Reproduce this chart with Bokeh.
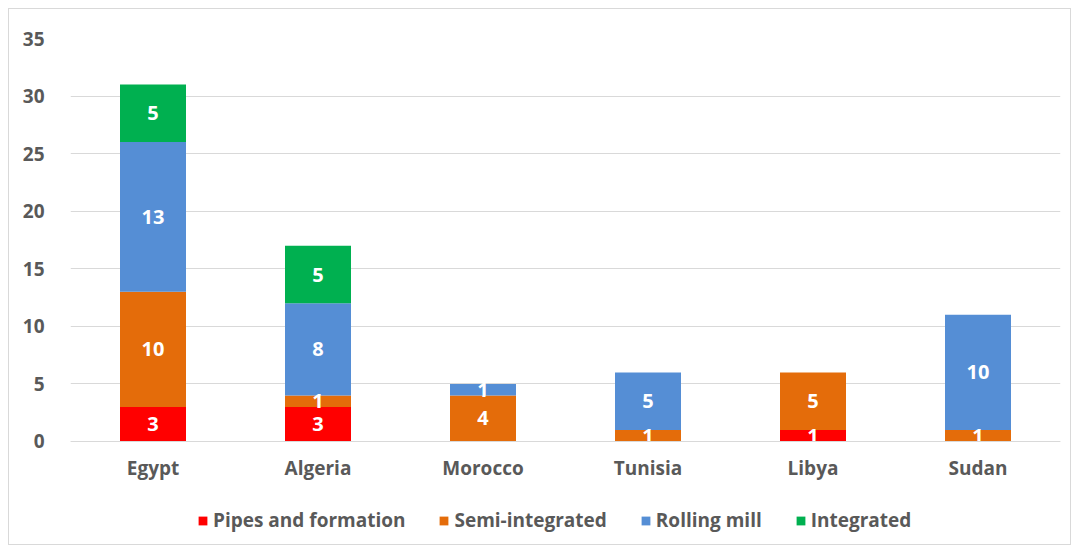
from bokeh.plotting import figure
from bokeh.models import (ColumnDataSource, FactorRange, Range1d, Legend, LegendItem,
                          FixedTicker)
from bokeh.core.properties import value
from bokeh.embed import file_html
from bokeh.resources import INLINE

countries = ["Egypt", "Algeria", "Morocco", "Tunisia", "Libya", "Sudan"]
series_names = ["Pipes and formation", "Semi-integrated", "Rolling mill", "Integrated"]
pipes = [3, 3, 0, 0, 1, 0]
semi = [10, 1, 4, 1, 5, 1]
rolling = [13, 8, 1, 5, 0, 10]
integrated = [5, 5, 0, 0, 0, 0]
y_ticks = [0, 5, 10, 15, 20, 25, 30, 35]
colors = ["#FF0000", "#E46C0A", "#558ED5", "#00B050"]

FONT = "Open Sans"
TXT = "#595959"

keys = ["pipes", "semi", "rolling", "integrated"]
src = ColumnDataSource(dict(country=countries, pipes=pipes, semi=semi,
                            rolling=rolling, integrated=integrated))

p = figure(frame_width=990, frame_height=506, x_range=FactorRange(*countries, range_padding=0),
           y_range=Range1d(-8.95, 35), output_backend="svg", toolbar_location=None,
           min_border_left=61, min_border_right=10, min_border_top=29,
           min_border_bottom=0)
p.styles = {"border": "1px solid #d9d9d9", "margin-left": "8px", "margin-top": "8px"}
p.outline_line_color = None

renderers = p.vbar_stack(keys, x="country", width=0.4, source=src,
                         fill_color=colors, line_color=None)

# segment labels
lx, ly, lt = [], [], []
series = [pipes, semi, rolling, integrated]
for i, c in enumerate(countries):
    base = 0
    for s in series:
        v = s[i]
        if v:
            lx.append(c)
            ly.append(base + v / 2)
            lt.append(str(v))
        base += v
p.text(x=lx, y=ly, text=lt, text_color="white", text_font=value(FONT),
       text_font_style="bold", text_font_size="20px", text_align="center",
       text_baseline="middle")

# axes
p.yaxis.ticker = FixedTicker(ticks=y_ticks)
p.yaxis.axis_line_color = None
p.yaxis.major_tick_line_color = None
p.yaxis.minor_tick_line_color = None
p.yaxis.major_label_standoff = 20
p.yaxis.major_label_text_font = FONT
p.yaxis.major_label_text_font_style = "bold"
p.yaxis.major_label_text_font_size = "19px"
p.yaxis.major_label_text_color = TXT

p.xaxis.fixed_location = 0
p.xaxis.axis_line_color = "#d9d9d9"
p.xaxis.major_tick_line_color = None
p.xaxis.minor_tick_line_color = None
p.xaxis.major_label_standoff = 8
p.xaxis.major_label_text_font = FONT
p.xaxis.major_label_text_font_style = "bold"
p.xaxis.major_label_text_font_size = "19px"
p.xaxis.major_label_text_color = TXT

p.xgrid.grid_line_color = None
p.ygrid.grid_line_color = "#d9d9d9"
p.ygrid.grid_line_width = 1

legend = Legend(items=[LegendItem(label=n, renderers=[r]) for n, r in zip(series_names, renderers)],
                orientation="horizontal", location=(127, 11), padding=0, margin=0,
                spacing=33, glyph_width=11, glyph_height=11, label_standoff=5,
                border_line_color=None, background_fill_alpha=0,
                label_text_font=FONT, label_text_font_style="bold",
                label_text_font_size="19px", label_text_color=TXT)
p.add_layout(legend, "center")

open("out.html", "w").write(file_html(p, INLINE))
